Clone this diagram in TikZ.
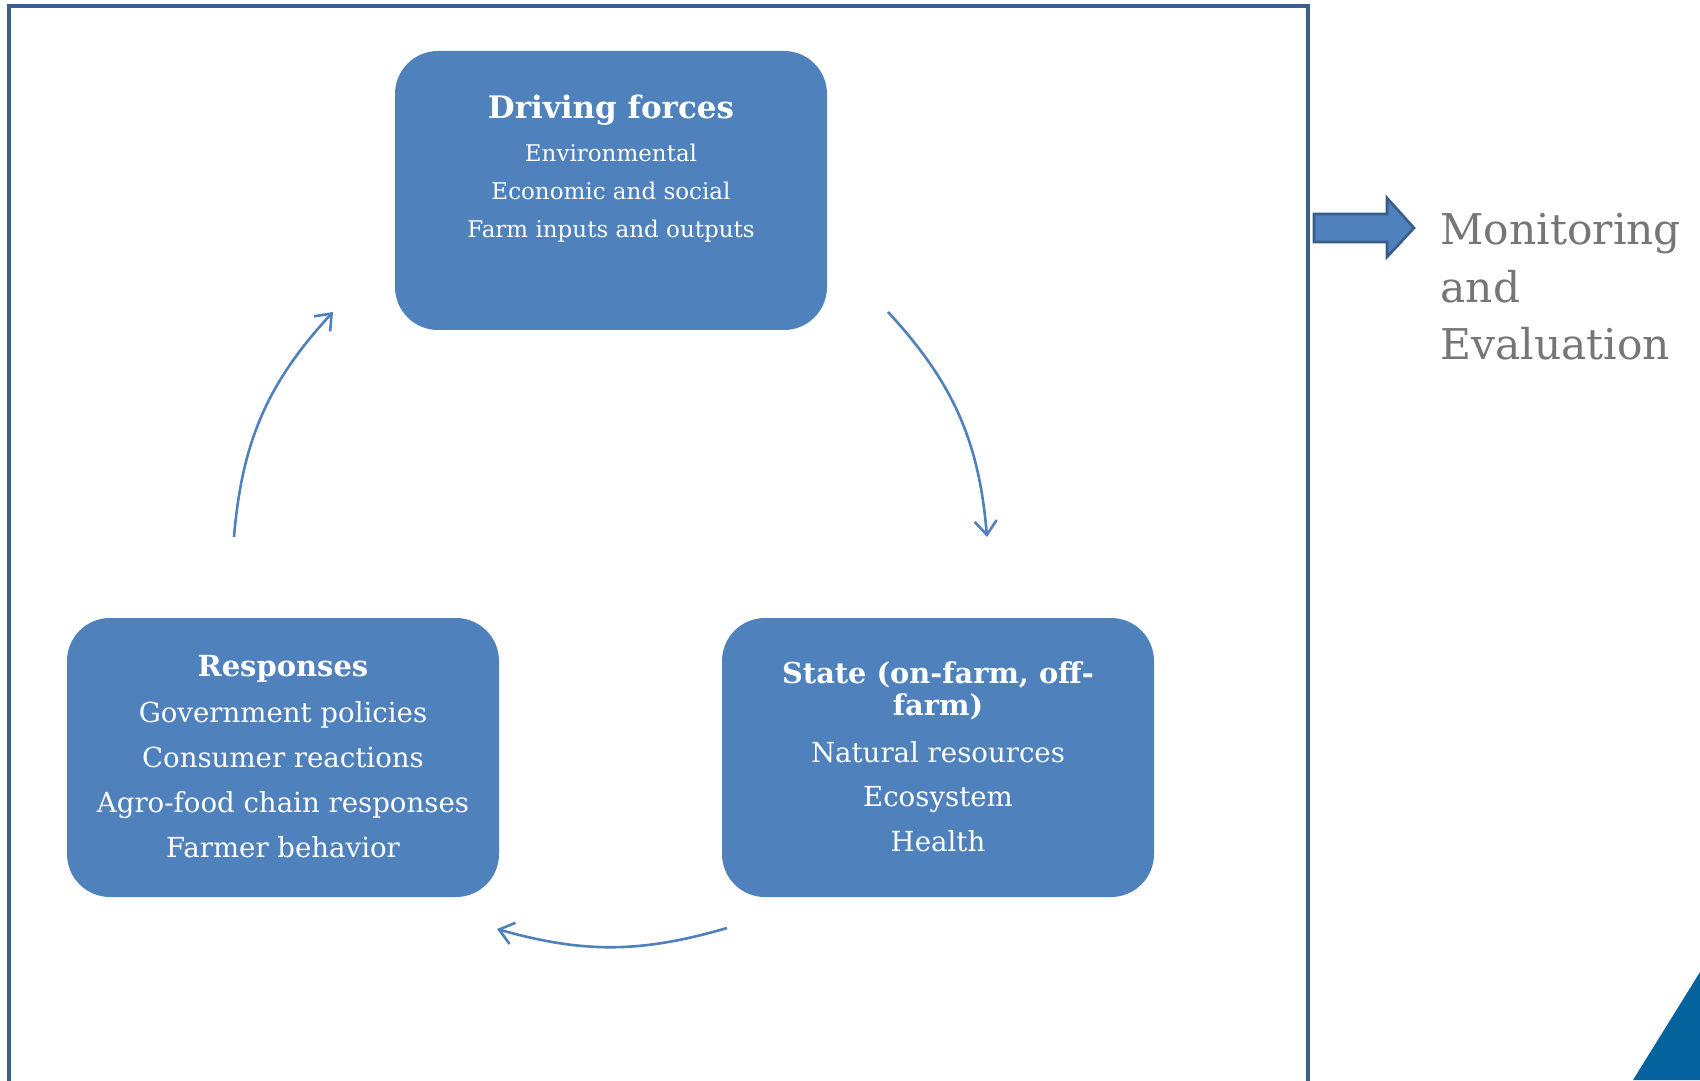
\documentclass[tikz,border=0pt]{standalone}
\usepackage{fontspec}
\setmainfont{DejaVu Serif}
\usetikzlibrary{arrows.meta}
\definecolor{boxblue}{HTML}{4F81BD}
\definecolor{framecol}{HTML}{3A5F8B}
\definecolor{arrowedge}{HTML}{385D8A}
\definecolor{megray}{HTML}{767676}
\definecolor{cornerblue}{HTML}{04629C}
% centred / left-aligned stacks of lines whose reference point is the first baseline
\newcommand\boxlines[1]{\begin{tabular}[t]{@{}c@{}}#1\end{tabular}}
\newcommand\leftlines[1]{\begin{tabular}[t]{@{}l@{}}#1\end{tabular}}
\begin{document}
\begin{tikzpicture}[x=0.5pt,y=-0.5pt,
  stagebox/.style={draw=none, fill=boxblue, rounded corners=21.5pt,
    minimum width=216pt, minimum height=139.5pt, inner sep=0pt},
  stagetext/.style={text=white, anchor=base, inner sep=0pt},
  cyclearrow/.style={draw=boxblue, line width=1.3pt,
    -{Straight Barb[length=7pt,width=11pt]}}]
\useasboundingbox (0,0) rectangle (1700,1080);
\clip (0,0) rectangle (1700,1080);
\fill[white] (0,0) rectangle (1700,1080);

% outer frame (open at the bottom edge of the page)
\draw[framecol, line width=2pt] (9,1100) -- (9,6) -- (1308,6) -- (1308,1100);

% the three stages
\node[stagebox] (drv) at (611,190.5) {};
\node[stagebox] (resp) at (283,757.5) {};
\node[stagebox] (state) at (938,757.5) {};

\node[stagetext, font=\bfseries\fontsize{15.5pt}{18pt}\selectfont] (drvtitle) at (611,119) {Driving forces};
\node[stagetext, font=\fontsize{11.5pt}{19pt}\selectfont] (drvbody) at (611,162)
  {\boxlines{Environmental\\Economic and social\\Farm inputs and outputs}};

\node[stagetext, font=\bfseries\fontsize{14.5pt}{16pt}\selectfont] (resptitle) at (283,676) {Responses};
\node[stagetext, font=\fontsize{13.8pt}{22.5pt}\selectfont] (respbody) at (283,722)
  {\boxlines{Government policies\\Consumer reactions\\Agro-food chain responses\\Farmer behavior}};

\node[stagetext, font=\bfseries\fontsize{14.4pt}{16pt}\selectfont] (statetitle) at (938,683)
  {\boxlines{State (on-farm, off-\\farm)}};
\node[stagetext, font=\fontsize{13.8pt}{22.25pt}\selectfont] (statebody) at (938,762)
  {\boxlines{Natural resources\\Ecosystem\\Health}};

% cycle connectors between the stages
\coordinate (c1s) at (888,312);
\coordinate (c1e) at (987,537);
\coordinate (c2s) at (727,928);
\coordinate (c2e) at (497,929);
\coordinate (c3s) at (234,537);
\coordinate (c3e) at (333,312);
\draw[cyclearrow] (c1s) to[bend left=19] (c1e);
\draw[cyclearrow] (c2s) to[bend left=16] (c2e);
\draw[cyclearrow] (c3s) to[bend left=19] (c3e);

% block arrow towards monitoring
\draw[fill=boxblue, draw=arrowedge, line width=1.3pt, line join=miter]
  (1314,214) -- (1387,214) -- (1387,198) -- (1414,228) -- (1387,257)
  -- (1387,242) -- (1314,242) -- cycle;
\node[anchor=base west, inner sep=0pt, text=megray,
  font=\fontsize{21.2pt}{28.75pt}\selectfont] (me) at (1440,245)
  {\leftlines{Monitoring\\and\\Evaluation}};

% corner accent
\fill[cornerblue] (1700,972) -- (1633,1080) -- (1700,1080) -- cycle;
\end{tikzpicture}
\end{document}
